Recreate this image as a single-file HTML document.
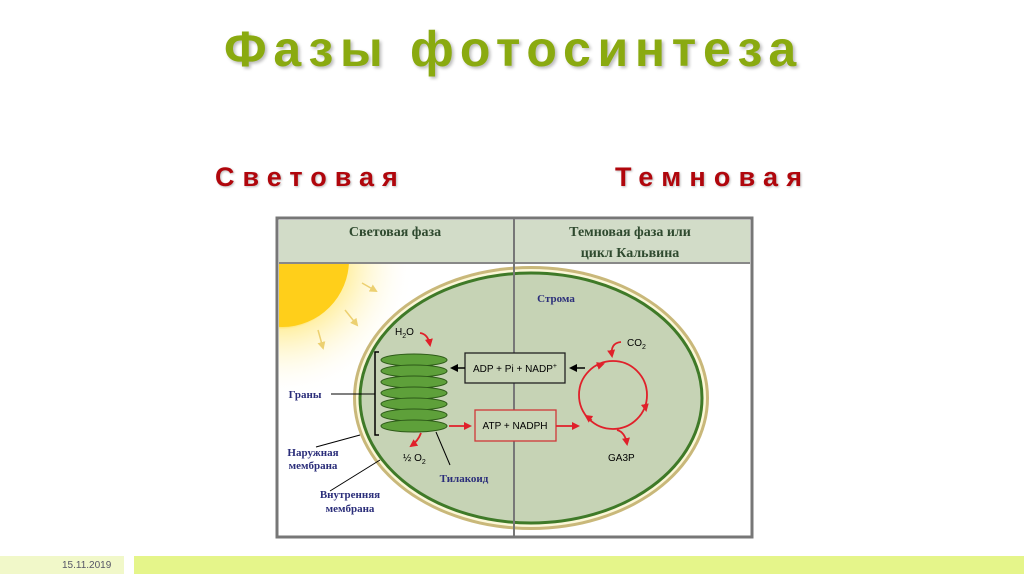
<!DOCTYPE html>
<html><head><meta charset="utf-8"><style>
body{margin:0;width:1024px;height:574px;background:#fff;position:relative;overflow:hidden;font-family:"Liberation Sans",sans-serif}
.t{position:absolute;font-weight:bold;white-space:nowrap}
</style></head><body>
<div class="t" style="left:224px;top:20px;font-size:50px;color:#8aaa10;letter-spacing:6.7px;text-shadow:2px 2px 3px #bbb">Фазы фотосинтеза</div>
<div class="t" style="left:215px;top:162px;font-size:27px;color:#b0060c;letter-spacing:8px;text-shadow:1px 1px 2px #bbb">Световая</div>
<div class="t" style="left:615px;top:162px;font-size:27px;color:#b0060c;letter-spacing:8.2px;text-shadow:1px 1px 2px #bbb">Темновая</div>
<div style="position:absolute;left:0;top:556px;width:124px;height:18px;background:#f1f8c9"></div>
<div class="t" style="left:62px;top:560px;font-size:10px;font-weight:normal;color:#556">15.11.2019</div>
<div style="position:absolute;left:134px;top:556px;width:890px;height:18px;background:#e5f58a"></div>
<svg style="position:absolute;left:0;top:0" width="1024" height="574" font-family="Liberation Sans, sans-serif">
<defs>
<radialGradient id="sg" cx="0.5" cy="0.5" r="0.5"><stop offset="0.45" stop-color="#ffd21a"/><stop offset="0.5" stop-color="#fff0a8"/><stop offset="1" stop-color="#fff" stop-opacity="0"/></radialGradient>
<clipPath id="c1"><rect x="279" y="264" width="234" height="272"/></clipPath>
<marker id="ar" markerWidth="8" markerHeight="8" refX="6" refY="4" orient="auto" markerUnits="userSpaceOnUse"><path d="M0,0L8,4L0,8z" fill="#e0202a"/></marker>
<marker id="ab" markerWidth="8" markerHeight="8" refX="6" refY="4" orient="auto" markerUnits="userSpaceOnUse"><path d="M0,0L8,4L0,8z" fill="#000"/></marker>
<marker id="ay" markerWidth="8" markerHeight="8" refX="6" refY="4" orient="auto" markerUnits="userSpaceOnUse"><path d="M0,0L8,4L0,8z" fill="#ecd070"/></marker>
</defs>
<rect x="277" y="218" width="475" height="319" fill="#fff" stroke="#777" stroke-width="3"/>
<rect x="279" y="220" width="471" height="43" fill="#d2dcc8"/>
<line x1="279" y1="263" x2="750" y2="263" stroke="#888" stroke-width="2"/>
<g clip-path="url(#c1)"><circle cx="280" cy="262" r="135" fill="url(#sg)"/><circle cx="282" cy="260" r="67" fill="#ffcf1a"/>
<g stroke="#ecd070" stroke-width="1.5" marker-end="url(#ay)"><line x1="362" y1="283" x2="376" y2="291"/><line x1="345" y1="310" x2="357" y2="325"/><line x1="318" y1="330" x2="323" y2="348"/></g></g>
<ellipse cx="531" cy="398" rx="178" ry="132" fill="#c9b87a"/>
<ellipse cx="531" cy="398" rx="175" ry="129" fill="#fbf7d8"/>
<ellipse cx="531" cy="398" rx="171" ry="125" fill="#c6d3b5" stroke="#3f7a28" stroke-width="3"/>
<line x1="514" y1="218" x2="514" y2="537" stroke="#777" stroke-width="2"/>
<text x="395" y="236" font-family="Liberation Serif,serif" font-weight="bold" font-size="14" fill="#2f4a2f" text-anchor="middle">Световая фаза</text>
<text x="630" y="236" font-family="Liberation Serif,serif" font-weight="bold" font-size="14" fill="#2f4a2f" text-anchor="middle">Темновая фаза или</text>
<text x="630" y="257" font-family="Liberation Serif,serif" font-weight="bold" font-size="14" fill="#2f4a2f" text-anchor="middle">цикл Кальвина</text>
<g fill="#5ea03a" stroke="#2d5a18" stroke-width="1">
<ellipse cx="414" cy="360" rx="33" ry="6"/><ellipse cx="414" cy="371" rx="33" ry="6"/><ellipse cx="414" cy="382" rx="33" ry="6"/><ellipse cx="414" cy="393" rx="33" ry="6"/><ellipse cx="414" cy="404" rx="33" ry="6"/><ellipse cx="414" cy="415" rx="33" ry="6"/><ellipse cx="414" cy="426" rx="33" ry="6"/></g>
<path d="M379,352H375V435H379" fill="none" stroke="#000" stroke-width="1.5"/>
<line x1="331" y1="394" x2="375" y2="394" stroke="#000"/>
<line x1="316" y1="447" x2="360" y2="435" stroke="#000"/>
<line x1="330" y1="491" x2="380" y2="460" stroke="#000"/>
<line x1="436" y1="432" x2="450" y2="465" stroke="#000"/>
<text x="305" y="398" font-family="Liberation Serif,serif" font-weight="bold" font-size="11" fill="#2b2e7a" text-anchor="middle">Граны</text>
<text x="313" y="456" font-family="Liberation Serif,serif" font-weight="bold" font-size="11" fill="#2b2e7a" text-anchor="middle">Наружная</text>
<text x="313" y="469" font-family="Liberation Serif,serif" font-weight="bold" font-size="11" fill="#2b2e7a" text-anchor="middle">мембрана</text>
<text x="350" y="498" font-family="Liberation Serif,serif" font-weight="bold" font-size="11" fill="#2b2e7a" text-anchor="middle">Внутренняя</text>
<text x="350" y="512" font-family="Liberation Serif,serif" font-weight="bold" font-size="11" fill="#2b2e7a" text-anchor="middle">мембрана</text>
<text x="464" y="482" font-family="Liberation Serif,serif" font-weight="bold" font-size="11" fill="#2b2e7a" text-anchor="middle">Тилакоид</text>
<text x="556" y="302" font-family="Liberation Serif,serif" font-weight="bold" font-size="11" fill="#2b2e7a" text-anchor="middle">Строма</text>
<text x="395" y="335" font-size="10">H<tspan font-size="7" dy="3">2</tspan><tspan dy="-3">O</tspan></text>
<path d="M420,333Q428,334 430,345" fill="none" stroke="#e0202a" stroke-width="1.8" marker-end="url(#ar)"/>
<path d="M421,433Q418,441 411,446" fill="none" stroke="#e0202a" stroke-width="1.8" marker-end="url(#ar)"/>
<text x="403" y="461" font-size="10">½ O<tspan font-size="7" dy="3">2</tspan></text>
<rect x="465" y="353" width="100" height="30" fill="#c9d5b8" stroke="#222" stroke-width="1.3"/>
<text x="515" y="372" font-size="10" text-anchor="middle">ADP + Pi + NADP<tspan font-size="7" dy="-4">+</tspan></text>
<line x1="465" y1="368" x2="452" y2="368" stroke="#000" stroke-width="1.5" marker-end="url(#ab)"/>
<line x1="585" y1="368" x2="571" y2="368" stroke="#000" stroke-width="1.5" marker-end="url(#ab)"/>
<rect x="475" y="410" width="81" height="31" fill="#c9d5b8" stroke="#d03838" stroke-width="1.3"/>
<text x="515" y="429" font-size="10" text-anchor="middle">ATP + NADPH</text>
<line x1="449" y1="426" x2="470" y2="426" stroke="#e0202a" stroke-width="1.8" marker-end="url(#ar)"/>
<line x1="556" y1="426" x2="578" y2="426" stroke="#e0202a" stroke-width="1.8" marker-end="url(#ar)"/>
<circle cx="613" cy="395" r="34" fill="none" stroke="#e0202a" stroke-width="1.8"/>
<path d="M597,366L603,364" stroke="#e0202a" marker-end="url(#ar)"/>
<path d="M645,405L646,410" stroke="#e0202a" marker-end="url(#ar)"/>
<path d="M592,420L586,416" stroke="#e0202a" marker-end="url(#ar)"/>
<path d="M621,342Q610,343 612,356" fill="none" stroke="#e0202a" stroke-width="1.8" marker-end="url(#ar)"/>
<text x="627" y="346" font-size="10">CO<tspan font-size="7" dy="3">2</tspan></text>
<path d="M617,430Q625,432 627,444" fill="none" stroke="#e0202a" stroke-width="1.8" marker-end="url(#ar)"/>
<text x="608" y="461" font-size="10">GA3P</text>
</svg>
</body></html>
